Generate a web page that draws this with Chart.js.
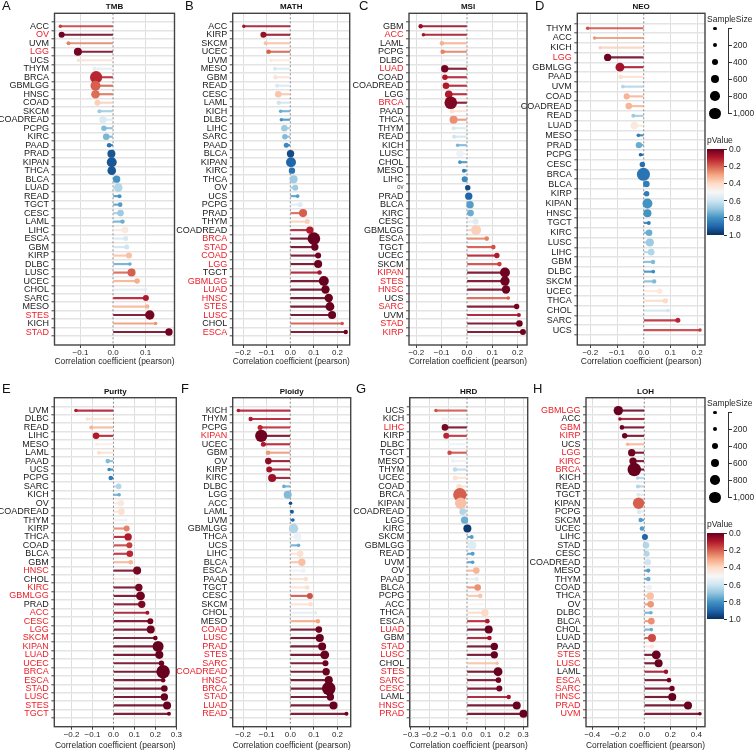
<!DOCTYPE html>
<html><head><meta charset="utf-8">
<script src="https://cdn.jsdelivr.net/npm/chart.js@4/dist/chart.umd.min.js"></script>
<style>
html,body{margin:0;padding:0;background:#fff;}
body{width:756px;height:753px;overflow:hidden;position:relative;font-family:"Liberation Sans",Arial,sans-serif;color:#1a1a1a;}
canvas{position:absolute;}
.t{position:absolute;white-space:nowrap;line-height:10px;}
.letter{position:absolute;font-size:13px;line-height:14px;color:#111;}
.ptitle{position:absolute;font-size:8px;font-weight:bold;line-height:10px;text-align:center;color:#111;}
.dot{position:absolute;border-radius:50%;background:#000;}
.ln{position:absolute;background:#333;}
</style></head><body>
<script>
// ---------------- DATA ----------------
const tmbCats = ['ACC','OV','UVM','LGG','UCS','THYM','BRCA','GBMLGG','HNSC','COAD','SKCM','COADREAD','PCPG','KIRC','PAAD','PRAD','KIPAN','THCA','BLCA','LUAD','READ','TGCT','CESC','LAML','LIHC','ESCA','GBM','KIRP','DLBC','LUSC','UCEC','CHOL','SARC','MESO','STES','KICH','STAD'];
const tmbR = [-0.162,-0.158,-0.137,-0.108,-0.106,-0.057,-0.052,-0.054,-0.054,-0.048,-0.042,-0.031,-0.028,-0.021,-0.012,-0.005,-0.004,-0.004,0.011,0.016,0.020,0.022,0.023,0.029,0.037,0.039,0.042,0.049,0.052,0.057,0.074,0.100,0.101,0.105,0.113,0.131,0.172];
const tmbP = [0.15,0.01,0.25,0.02,0.42,0.55,0.12,0.20,0.22,0.38,0.68,0.57,0.72,0.73,0.87,0.93,0.93,0.93,0.80,0.65,0.80,0.78,0.68,0.75,0.45,0.58,0.60,0.35,0.75,0.20,0.32,0.55,0.10,0.33,0.02,0.28,0.01];
const tmbN = [50,360,120,600,50,120,1100,830,670,360,120,520,290,430,190,600,830,670,520,670,120,190,430,170,430,240,240,360,70,600,290,70,360,170,760,70,520];
const tmbRed = ['OV','LGG','STES','STAD'];

const mathCats = ['ACC','KIRP','SKCM','UCEC','UVM','MESO','GBM','READ','CESC','LAML','KICH','DLBC','LIHC','SARC','PAAD','BLCA','KIPAN','KIRC','THCA','OV','UCS','PCPG','PRAD','THYM','COADREAD','BRCA','STAD','COAD','LGG','TGCT','GBMLGG','LUAD','HNSC','STES','LUSC','CHOL','ESCA'];
const mathR = [-0.197,-0.114,-0.104,-0.092,-0.082,-0.065,-0.063,-0.056,-0.051,-0.049,-0.041,-0.038,-0.025,-0.023,-0.017,0.001,0.003,0.007,0.014,0.021,0.031,0.042,0.054,0.072,0.083,0.100,0.104,0.118,0.118,0.124,0.142,0.149,0.163,0.168,0.177,0.220,0.235];
const mathP = [0.08,0.06,0.35,0.20,0.45,0.58,0.43,0.58,0.36,0.60,0.75,0.80,0.68,0.72,0.82,0.95,0.90,0.87,0.68,0.68,0.78,0.56,0.20,0.38,0.10,0.001,0.005,0.01,0.005,0.08,0.001,0.001,0.001,0.001,0.001,0.18,0.01];
const mathN = [50,360,120,190,50,120,170,120,430,170,70,50,430,300,240,520,830,400,600,360,70,240,600,240,520,1150,520,360,600,190,830,640,640,700,600,50,170];
const mathRed = ['BRCA','STAD','COAD','LGG','GBMLGG','LUAD','HNSC','STES','LUSC','ESCA'];

const msiCats = ['GBM','ACC','LAML','PCPG','DLBC','LUAD','COAD','COADREAD','LGG','BRCA','PAAD','THCA','THYM','READ','KICH','LUSC','CHOL','MESO','LIHC','OV','PRAD','BLCA','KIRC','CESC','GBMLGG','ESCA','TGCT','UCEC','SKCM','KIPAN','STES','HNSC','UCS','SARC','UVM','STAD','KIRP'];
const msiR = [-0.183,-0.172,-0.099,-0.096,-0.096,-0.088,-0.087,-0.083,-0.072,-0.064,-0.059,-0.053,-0.053,-0.051,-0.037,-0.028,-0.028,-0.012,-0.009,0.003,0.007,0.012,0.014,0.034,0.036,0.078,0.104,0.118,0.128,0.150,0.150,0.154,0.163,0.196,0.205,0.207,0.221];
const msiP = [0.06,0.08,0.32,0.25,0.52,0.02,0.10,0.10,0.10,0.03,0.42,0.27,0.58,0.60,0.73,0.52,0.80,0.85,0.82,0.95,0.90,0.78,0.75,0.56,0.38,0.25,0.18,0.10,0.16,0.01,0.01,0.01,0.20,0.02,0.08,0.01,0.01];
const msiN = [170,70,170,190,30,520,300,430,550,1150,190,600,120,120,70,520,70,120,360,290,520,520,430,360,830,190,190,290,190,830,760,640,70,290,120,430,360];
const msiRed = ['ACC','LUAD','BRCA','KIPAN','STES','HNSC','SARC','STAD','KIRP'];

const neoCats = ['THYM','ACC','KICH','LGG','GBMLGG','PAAD','UVM','COAD','COADREAD','READ','LUAD','MESO','PRAD','PCPG','CESC','BRCA','BLCA','KIRP','KIPAN','HNSC','TGCT','KIRC','LUSC','LIHC','GBM','DLBC','SKCM','UCEC','THCA','CHOL','SARC','UCS'];
const neoR = [-0.210,-0.184,-0.163,-0.135,-0.089,-0.086,-0.078,-0.064,-0.056,-0.039,-0.035,-0.020,-0.018,-0.012,-0.005,-0.001,0.010,0.011,0.014,0.014,0.019,0.020,0.023,0.028,0.035,0.036,0.039,0.060,0.081,0.091,0.128,0.211];
const neoP = [0.18,0.28,0.38,0.01,0.08,0.42,0.65,0.33,0.33,0.68,0.45,0.85,0.75,0.90,0.88,0.87,0.85,0.85,0.80,0.80,0.85,0.75,0.68,0.65,0.72,0.82,0.72,0.45,0.40,0.60,0.12,0.15];
const neoN = [70,50,50,520,700,170,70,360,430,120,550,70,400,70,290,1200,430,290,830,600,120,430,600,430,170,70,170,290,290,70,240,50];
const neoRed = ['LGG'];

const purCats = ['UVM','DLBC','READ','LIHC','MESO','LAML','PAAD','UCS','PCPG','SARC','KICH','OV','COADREAD','THYM','KIRP','THCA','COAD','BLCA','GBM','HNSC','CHOL','KIRC','GBMLGG','PRAD','ACC','CESC','LGG','SKCM','KIPAN','LUAD','UCEC','BRCA','ESCA','STAD','LUSC','STES','TGCT'];
const purR = [-0.179,-0.125,-0.106,-0.083,-0.079,-0.070,-0.027,-0.021,-0.013,0.025,0.027,0.035,0.038,0.059,0.063,0.070,0.076,0.078,0.083,0.113,0.116,0.121,0.129,0.135,0.162,0.176,0.178,0.200,0.213,0.219,0.229,0.237,0.237,0.243,0.243,0.256,0.265];
const purP = [0.10,0.42,0.33,0.10,0.47,0.42,0.72,0.82,0.85,0.65,0.75,0.45,0.42,0.52,0.25,0.10,0.15,0.12,0.33,0.02,0.45,0.02,0.01,0.03,0.08,0.01,0.01,0.01,0.001,0.001,0.01,0.001,0.01,0.001,0.001,0.001,0.01];
const purN = [70,50,120,430,70,120,190,50,190,300,70,430,430,70,360,520,360,430,190,600,50,520,700,520,120,360,600,190,950,600,290,1250,190,430,520,600,120];
const purRed = ['HNSC','KIRC','GBMLGG','ACC','CESC','LGG','SKCM','KIPAN','LUAD','UCEC','BRCA','ESCA','STAD','LUSC','STES','TGCT'];

const ploCats = ['KICH','THYM','PCPG','KIPAN','UCEC','GBM','OV','KIRP','KIRC','DLBC','LGG','ACC','LAML','UVM','GBMLGG','THCA','UCS','LIHC','BLCA','ESCA','PAAD','TGCT','CESC','SKCM','CHOL','MESO','COAD','LUSC','PRAD','STES','SARC','COADREAD','HNSC','BRCA','STAD','LUAD','READ'];
const ploR = [-0.220,-0.168,-0.128,-0.123,-0.114,-0.094,-0.093,-0.089,-0.077,-0.027,-0.011,0.001,0.007,0.011,0.014,0.031,0.035,0.042,0.049,0.055,0.066,0.072,0.083,0.086,0.107,0.117,0.121,0.125,0.135,0.146,0.149,0.152,0.163,0.163,0.170,0.183,0.238];
const ploP = [0.10,0.10,0.12,0.01,0.10,0.28,0.05,0.08,0.07,0.75,0.72,0.95,0.92,0.90,0.65,0.53,0.75,0.42,0.35,0.52,0.42,0.42,0.18,0.42,0.55,0.30,0.01,0.001,0.001,0.001,0.01,0.001,0.001,0.001,0.001,0.001,0.01];
const ploN = [70,170,240,1100,240,190,430,360,600,70,600,70,120,70,760,520,70,430,520,190,190,190,360,170,50,170,430,600,600,700,360,520,600,1250,520,600,120];
const ploRed = ['KIPAN','COAD','LUSC','PRAD','STES','SARC','COADREAD','HNSC','BRCA','STAD','LUAD','READ'];

const hrdCats = ['UCS','KICH','LIHC','KIRP','DLBC','TGCT','MESO','THYM','UCEC','COAD','BRCA','KIPAN','COADREAD','LGG','KIRC','SKCM','GBMLGG','READ','UVM','OV','PAAD','BLCA','PCPG','ACC','THCA','ESCA','LUAD','GBM','STAD','LUSC','CHOL','STES','SARC','CESC','LAML','HNSC','PRAD'];
const hrdR = [-0.166,-0.127,-0.118,-0.111,-0.096,-0.093,-0.075,-0.064,-0.063,-0.043,-0.038,-0.034,-0.023,-0.013,0.002,0.025,0.027,0.030,0.030,0.050,0.052,0.057,0.071,0.080,0.096,0.109,0.116,0.120,0.146,0.146,0.161,0.166,0.168,0.173,0.223,0.266,0.302];
const hrdP = [0.18,0.52,0.02,0.12,0.52,0.17,0.52,0.63,0.43,0.43,0.20,0.35,0.65,0.75,0.98,0.78,0.56,0.78,0.78,0.33,0.55,0.27,0.36,0.50,0.40,0.10,0.001,0.08,0.001,0.001,0.35,0.001,0.01,0.01,0.08,0.001,0.001];
const hrdN = [70,50,430,360,30,190,120,170,240,290,1250,1000,430,520,600,120,700,120,70,430,170,430,190,70,520,190,600,190,520,520,70,700,300,360,170,600,600];
const hrdRed = ['LIHC','LUAD','STAD','LUSC','STES','SARC','CESC','HNSC','PRAD'];

const lohCats = ['GBMLGG','ACC','GBM','KIRP','UCS','LGG','KIRC','BRCA','KICH','READ','TGCT','KIPAN','PCPG','SKCM','UCEC','LIHC','STAD','CESC','COADREAD','MESO','THYM','COAD','THCA','OV','DLBC','BLCA','CHOL','LUAD','PAAD','STES','LUSC','LAML','ESCA','SARC','HNSC','PRAD','UVM'];
const lohR = [-0.200,-0.187,-0.172,-0.151,-0.128,-0.097,-0.087,-0.077,-0.051,-0.049,-0.046,-0.044,-0.041,-0.028,-0.018,0.005,0.013,0.018,0.026,0.031,0.031,0.038,0.046,0.049,0.051,0.054,0.054,0.059,0.059,0.092,0.110,0.167,0.190,0.213,0.215,0.336,0.428];
const lohP = [0.001,0.07,0.01,0.01,0.33,0.01,0.01,0.001,0.65,0.65,0.57,0.20,0.57,0.78,0.78,0.90,0.65,0.65,0.60,0.78,0.75,0.53,0.35,0.28,0.75,0.27,0.75,0.17,0.45,0.001,0.001,0.07,0.01,0.01,0.001,0.001,0.01];
const lohN = [760,70,190,290,70,520,520,1250,70,120,120,1000,190,170,190,360,430,360,430,120,170,290,520,430,70,430,70,600,170,700,600,170,190,290,600,600,70];
const lohRed = ['GBMLGG','GBM','KIRP','LGG','KIRC','BRCA','STES','LUSC','ESCA','SARC','HNSC','PRAD','UVM'];

const ticksA = [-0.1, 0, 0.1];
const ticksB = [-0.2, -0.1, 0, 0.1, 0.2];
const ticksE = [-0.2, -0.1, 0, 0.1, 0.2, 0.3];
const ticksG = [-0.3, -0.2, -0.1, 0, 0.1, 0.2, 0.3];
const ticksH = [-0.4, -0.2, 0, 0.2, 0.4];
const legendSizes = [20, 200, 400, 600, 800, 1000];
const legendSizeLabels = ['', '200', '400', '600', '800', '1,000'];
const legendP = [0, 0.2, 0.4, 0.6, 0.8, 1.0];
const xTitle = 'Correlation coefficient (pearson)';

// ---------------- STYLE HELPERS ----------------
const FONT = '"Liberation Sans", Arial, Helvetica, sans-serif';
Chart.defaults.font.family = FONT;
const RDBU = ['#67001F','#B2182B','#D6604D','#F4A582','#FDDBC7','#F7F7F7','#D1E5F0','#92C5DE','#4393C3','#2166AC','#053061'];
const hex2rgb = h => [1,3,5].map(i => parseInt(h.substr(i,2),16));
function pColor(p, a) {
  const t = Math.max(0, Math.min(1, p)) * 10;
  const i = Math.min(9, Math.floor(t)); const f = t - i;
  const c0 = hex2rgb(RDBU[i]), c1 = hex2rgb(RDBU[i+1]);
  const c = c0.map((v,k) => Math.round(v + (c1[k]-v)*f));
  return `rgba(${c[0]},${c[1]},${c[2]},${a === undefined ? 1 : a})`;
}
const sizeToR = n => 1.5 + 0.0042 * n;
const fmt = v => (Math.abs(v) < 1e-9 ? '0.0' : (v < 0 ? '\u2212' + Math.abs(v).toFixed(1) : v.toFixed(1)));
const RED = '#ee1c25';

const ROWS = [
  {ctop: 0, ch: 375, ptop: 13.3, pbot: 345, xh: 22, titleTop: 1.5, letterTop: -1},
  {ctop: 375, ch: 378, ptop: 397.7, pbot: 726.7, xh: 24, titleTop: 386.7, letterTop: 382}
];
const PANELS = [
  {letter:'A', lx:2,   title:'TMB',    cats:tmbCats,  r:tmbR,  p:tmbP,  n:tmbN,  red:tmbRed,  ticks:ticksA, row:0, left:54.5,  right:174.5, min:-0.18,   max:0.189},
  {letter:'B', lx:185, title:'MATH',   cats:mathCats, r:mathR, p:mathP, n:mathN, red:mathRed, ticks:ticksB, row:0, left:232.7, right:349.7, min:-0.244,  max:0.2517},
  {letter:'C', lx:359, title:'MSI',    cats:msiCats,  r:msiR,  p:msiP,  n:msiN,  red:msiRed,  ticks:ticksB, row:0, left:409,   right:527,   min:-0.229,  max:0.237, small:['OV']},
  {letter:'D', lx:535, title:'NEO',    cats:neoCats,  r:neoR,  p:neoP,  n:neoN,  red:neoRed,  ticks:ticksB, row:0, left:577.3, right:705,   min:-0.2487, max:0.2296},
  {letter:'E', lx:2,   title:'Purity', cats:purCats,  r:purR,  p:purP,  n:purN,  red:purRed,  ticks:ticksE, row:1, left:54.3,  right:176.3, min:-0.2824, max:0.3},
  {letter:'F', lx:181, title:'Ploidy', cats:ploCats,  r:ploR,  p:ploP,  n:ploN,  red:ploRed,  ticks:ticksB, row:1, left:232.7, right:350.7, min:-0.244,  max:0.256},
  {letter:'G', lx:356, title:'HRD',    cats:hrdCats,  r:hrdR,  p:hrdP,  n:hrdN,  red:hrdRed,  ticks:ticksG, row:1, left:409.7, right:527.7, min:-0.3064, max:0.3246},
  {letter:'H', lx:533, title:'LOH',    cats:lohCats,  r:lohR,  p:lohP,  n:lohN,  red:lohRed,  ticks:ticksH, row:1, left:586,   right:705,   min:-0.4485, max:0.4669}
];

const framePlugin = {
  id: 'frame',
  beforeDatasetsDraw(chart) {
    const {ctx, chartArea: a, scales: {x}} = chart;
    const x0 = x.getPixelForValue(0);
    ctx.save();
    ctx.strokeStyle = '#8c8c8c'; ctx.lineWidth = 1; ctx.setLineDash([2, 2]);
    ctx.beginPath(); ctx.moveTo(x0, a.top); ctx.lineTo(x0, a.bottom); ctx.stroke();
    ctx.restore();
  },
  afterDatasetsDraw(chart) {
    const {ctx, chartArea: a} = chart;
    ctx.save();
    ctx.strokeStyle = '#444'; ctx.lineWidth = 1.4;
    ctx.strokeRect(a.left, a.top, a.right - a.left, a.bottom - a.top);
    ctx.restore();
  }
};

function addDiv(cls, left, top, html, extra) {
  const d = document.createElement('div');
  d.className = cls; d.style.left = left + 'px'; d.style.top = top + 'px';
  if (html !== null) d.innerHTML = html;
  if (extra) Object.assign(d.style, extra);
  document.body.appendChild(d);
  return d;
}

function buildPanel(P) {
  const R = ROWS[P.row];
  const YW = 62;
  const cl = Math.floor(P.left - YW);
  const yw = P.left - cl;
  const cw = Math.ceil(P.right - cl + 8);
  const cv = document.createElement('canvas');
  cv.width = cw; cv.height = R.ch;
  cv.style.left = cl + 'px'; cv.style.top = R.ctop + 'px';
  cv.style.width = cw + 'px'; cv.style.height = R.ch + 'px';
  document.body.appendChild(cv);
  const padTop = R.ptop - R.ctop;
  const padBottom = R.ch - (R.pbot - R.ctop) - R.xh;
  const padRight = cw - (P.right - cl);
  const cats = P.cats;
  const small = P.small || [];
  const tickCat = c => (c && c.tick) ? cats[c.tick.value] : undefined;

  new Chart(cv, {
    type: 'scatter',
    data: {
      datasets: [
        {
          type: 'scatter', order: 0, clip: false,
          data: cats.map((c, i) => ({x: P.r[i], y: i})),
          pointRadius: P.n.map(sizeToR),
          pointBackgroundColor: P.p.map(v => pColor(v)),
          pointBorderWidth: 0, pointBorderColor: 'rgba(0,0,0,0)',
          pointHoverRadius: P.n.map(sizeToR)
        },
        {
          type: 'bar', order: 1, indexAxis: 'y', clip: false,
          data: cats.map((c, i) => ({x: [0, P.r[i]], y: i})),
          backgroundColor: P.p.map(v => pColor(v, 0.88)),
          borderWidth: 0, barThickness: 1.5
        }
      ]
    },
    options: {
      responsive: false, animation: false, devicePixelRatio: 1, events: [],
      layout: {padding: {left: 0, top: padTop, right: padRight, bottom: padBottom}},
      plugins: {legend: {display: false}, tooltip: {enabled: false}, title: {display: false}},
      scales: {
        x: {
          type: 'linear', min: P.min, max: P.max, position: 'bottom',
          afterBuildTicks: s => { s.ticks = P.ticks.map(v => ({value: v})); },
          afterFit: s => { s.height = R.xh; s.paddingLeft = 0; s.paddingRight = 0; },
          ticks: {callback: v => fmt(v), font: {size: 8}, color: '#262626', padding: 0, autoSkip: false, maxRotation: 0, minRotation: 0},
          grid: {color: c => (c && c.tick && Math.abs(c.tick.value) < 1e-9) ? 'rgba(0,0,0,0)' : '#dedede', lineWidth: 1, tickLength: 3, tickColor: '#444', tickWidth: 1},
          border: {display: false},
          title: {display: true, text: xTitle, font: {size: 8.5}, color: '#262626', padding: 0}
        },
        y: {
          type: 'linear', reverse: true, min: -1, max: cats.length, position: 'left',
          afterBuildTicks: s => { s.ticks = cats.map((c, i) => ({value: i})); },
          afterFit: s => { s.width = yw; s.paddingTop = 0; s.paddingBottom = 0; },
          ticks: {
            callback: v => cats[v],
            autoSkip: false, padding: 2.5,
            color: c => P.red.includes(tickCat(c)) ? RED : '#1a1a1a',
            font: c => ({size: small.includes(tickCat(c)) ? 4.5 : 9, family: FONT})
          },
          grid: {color: '#e4e4e4', lineWidth: 1.6, tickLength: 3, tickColor: '#444', tickWidth: 1},
          border: {display: false}
        }
      }
    },
    plugins: [framePlugin]
  });

  addDiv('letter', P.lx, R.letterTop, P.letter);
  addDiv('ptitle', P.left, R.titleTop, P.title, {width: (P.right - P.left) + 'px'});
}

PANELS.forEach(buildPanel);

function buildLegend(dy) {
  const fs = {fontSize: '8.5px', color: '#262626'};
  addDiv('t', 707, 14 + dy, 'SampleSize', fs);
  const ys = [28.3, 45, 62, 79, 96, 113.3];
  legendSizes.forEach((n, i) => {
    const r = sizeToR(n);
    addDiv('dot', 715 - r, ys[i] + dy - r, null, {width: 2*r + 'px', height: 2*r + 'px'});
    addDiv('ln', 728.5, ys[i] + dy - 0.5, null, {width: '3px', height: '1px'});
    if (legendSizeLabels[i]) addDiv('t', 733, ys[i] + dy - 5, legendSizeLabels[i], fs);
  });
  addDiv('ln', 728, ys[0] + dy - 0.5, null, {width: '1px', height: (ys[5] - ys[0] + 1) + 'px'});
  addDiv('t', 707, 135 + dy, 'pValue', fs);
  const stops = RDBU.map((c, i) => `${c} ${i*10}%`).join(',');
  const bt = 149 + dy, bh = 86;
  addDiv('ln', 707, bt, null, {width: '17px', height: bh + 'px', background: `linear-gradient(to bottom, ${stops})`});
  legendP.forEach(p => {
    const y = bt + p * bh;
    addDiv('ln', 724, y - 0.5, null, {width: '3px', height: '1px'});
    addDiv('t', 729, y - 5, p.toFixed(1), fs);
  });
}
buildLegend(0);
buildLegend(384);
</script>
</body></html>
